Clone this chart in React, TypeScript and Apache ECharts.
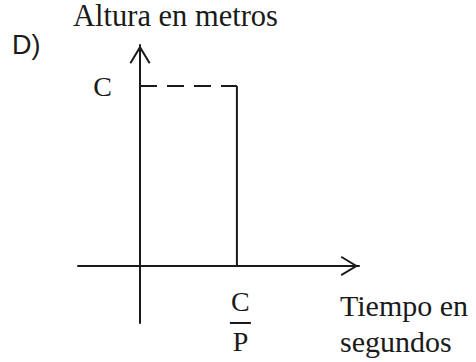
import React, { useEffect, useRef } from "react";
import * as echarts from "echarts";

// Height reached (C) and the time at which it is reached (C/P), in units of C and C/P
const heightValues: number[] = [1];
const timeValues: number[] = [1];
const xRange: number[] = [-0.64, 2.26];
const yRange: number[] = [-0.317, 1.228];
const yTickLabels: string[] = ["C"];
const xTickLabels: string[] = ["{n|C}\n{b| }\n{d|P}"];

const INK = "#1a1a1a";
const SERIF = "Liberation Serif";
const SANS = "Liberation Sans";

// Open chevron arrow head, pointing up
const ARROW = "path://M10.5 0 L21 17.5 L19.3 18.5 L10.5 3.9 L1.7 18.5 L0 17.5 Z";

export default function App() {
  const ref = useRef<HTMLDivElement>(null);

  useEffect(() => {
    if (!ref.current) return;
    const chart = echarts.init(ref.current, null, { renderer: "svg" });
    const C = heightValues[0];
    const T = timeValues[0];

    const axisLine = (size: number[]) => ({
      show: true,
      onZero: true,
      symbol: ["none", ARROW],
      symbolSize: size,
      symbolOffset: [0, -size[1] / 2],
      lineStyle: { color: INK, width: 2 },
    });

    chart.setOption({
      animation: false,
      backgroundColor: "#ffffff",
      title: [
        {
          text: "D)",
          left: 12,
          top: 31,
          padding: 0,
          textStyle: { fontFamily: SANS, fontSize: 27, fontWeight: "normal", color: INK },
        },
        {
          text: "Altura en metros",
          left: 73,
          top: 0,
          padding: 0,
          textStyle: { fontFamily: SERIF, fontSize: 30.5, fontWeight: "normal", color: INK },
        },
        {
          text: "Tiempo en\nsegundos",
          left: 340,
          top: 287,
          padding: 0,
          textStyle: {
            fontFamily: SERIF,
            fontSize: 30,
            lineHeight: 36,
            fontWeight: "normal",
            color: INK,
          },
        },
      ],
      grid: {
        left: 78,
        right: 117,
        top: 45,
        bottom: 39,
        containLabel: false,
        outerBoundsMode: "none",
      },
      xAxis: {
        type: "value",
        min: xRange[0],
        max: xRange[1],
        axisLine: axisLine([20, 19]),
        axisTick: { show: false },
        splitLine: { show: false },
        axisLabel: {
          customValues: timeValues,
          margin: -37,
          padding: [0, 0, 0, 7],
          formatter: () => xTickLabels[0],
          rich: {
            n: { fontFamily: SERIF, fontSize: 28, color: INK, lineHeight: 30, align: "center" },
            b: {
              fontSize: 2,
              width: 21,
              height: 2,
              lineHeight: 14,
              backgroundColor: INK,
              align: "center",
            },
            d: { fontFamily: SERIF, fontSize: 28, color: INK, lineHeight: 22, align: "center" },
          },
        },
      },
      yAxis: {
        type: "value",
        min: yRange[0],
        max: yRange[1],
        axisLine: axisLine([21, 19]),
        axisTick: { show: false },
        splitLine: { show: false },
        axisLabel: {
          customValues: heightValues,
          margin: -34,
          formatter: () => yTickLabels[0],
          fontFamily: SERIF,
          fontSize: 28,
          color: INK,
        },
      },
      series: [
        {
          // dashed level at height C
          type: "line",
          data: [
            [0, C],
            [T, C],
          ],
          symbol: "none",
          silent: true,
          lineStyle: { color: INK, width: 2, type: [17, 10] },
        },
        {
          // drop at time C/P
          type: "line",
          data: [
            [T, C],
            [T, 0],
          ],
          symbol: "none",
          silent: true,
          lineStyle: { color: INK, width: 2, type: "solid" },
        },
      ],
    });

    return () => chart.dispose();
  }, []);

  return (
    <div
      ref={ref}
      style={{ position: "fixed", left: 0, top: 0, width: 476, height: 362, background: "#fff" }}
    />
  );
}
